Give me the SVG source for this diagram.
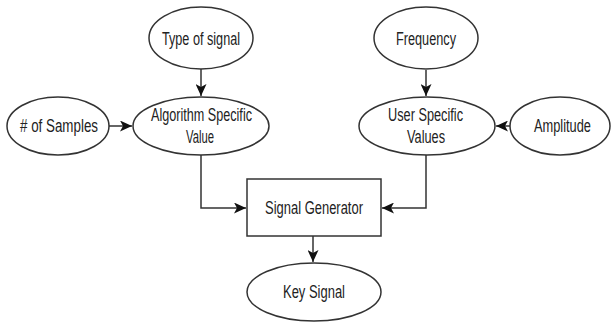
<svg xmlns="http://www.w3.org/2000/svg" width="611" height="323" viewBox="0 0 611 323">
<style>
.n{fill:#fff;stroke:#333;stroke-width:1.5}
.t{font-family:"Liberation Sans",Arial,sans-serif;font-size:17.5px;fill:#222;text-anchor:middle}
.c{fill:none;stroke:#333;stroke-width:1.5}
</style>
<defs>
<marker id="a" markerWidth="13" markerHeight="11" refX="12" refY="5.5" orient="auto" markerUnits="userSpaceOnUse">
<path d="M0,0 L12,5.5 L0,11 L3,5.5 Z" fill="#111"/>
</marker>
</defs>
<rect width="611" height="323" fill="#fff"/>
<g id="connectors">
<line class="c" x1="201" y1="69" x2="201" y2="96" marker-end="url(#a)"/>
<line class="c" x1="109" y1="126" x2="132" y2="126" marker-end="url(#a)"/>
<line class="c" x1="426" y1="70" x2="426" y2="96" marker-end="url(#a)"/>
<line class="c" x1="510" y1="126" x2="496" y2="126" marker-end="url(#a)"/>
<polyline class="c" points="201,155 201,208 246,208" marker-end="url(#a)"/>
<polyline class="c" points="426,155 426,208 382,208" marker-end="url(#a)"/>
<line class="c" x1="313" y1="236" x2="313" y2="262" marker-end="url(#a)"/>
</g>
<g id="type-of-signal">
<ellipse class="n" cx="201" cy="38" rx="52" ry="31"/>
<text class="t" x="201" y="45" textLength="78" lengthAdjust="spacingAndGlyphs">Type of signal</text>
</g>
<g id="algorithm-specific-value">
<ellipse class="n" cx="201" cy="126" rx="68" ry="29"/>
<text class="t" x="201.5" y="121" textLength="101" lengthAdjust="spacingAndGlyphs">Algorithm Specific</text>
<text class="t" x="200" y="143" textLength="28" lengthAdjust="spacingAndGlyphs">Value</text>
</g>
<g id="num-samples">
<ellipse class="n" cx="58" cy="126" rx="51" ry="29"/>
<text class="t" x="59" y="132" textLength="78" lengthAdjust="spacingAndGlyphs"># of Samples</text>
</g>
<g id="frequency">
<ellipse class="n" cx="426" cy="38" rx="52" ry="31"/>
<text class="t" x="426" y="45" textLength="60" lengthAdjust="spacingAndGlyphs">Frequency</text>
</g>
<g id="user-specific-values">
<ellipse class="n" cx="427" cy="126" rx="68" ry="29"/>
<text class="t" x="425.5" y="121" textLength="75" lengthAdjust="spacingAndGlyphs">User Specific</text>
<text class="t" x="426" y="143" textLength="38" lengthAdjust="spacingAndGlyphs">Values</text>
</g>
<g id="amplitude">
<ellipse class="n" cx="560" cy="126" rx="50" ry="29"/>
<text class="t" x="562.5" y="132" textLength="57" lengthAdjust="spacingAndGlyphs">Amplitude</text>
</g>
<g id="signal-generator">
<rect class="n" x="247" y="179" width="134" height="57"/>
<text class="t" x="314" y="214" textLength="98" lengthAdjust="spacingAndGlyphs">Signal Generator</text>
</g>
<g id="key-signal">
<ellipse class="n" cx="314" cy="292" rx="67" ry="29"/>
<text class="t" x="314" y="298" textLength="62" lengthAdjust="spacingAndGlyphs">Key Signal</text>
</g>
</svg>
